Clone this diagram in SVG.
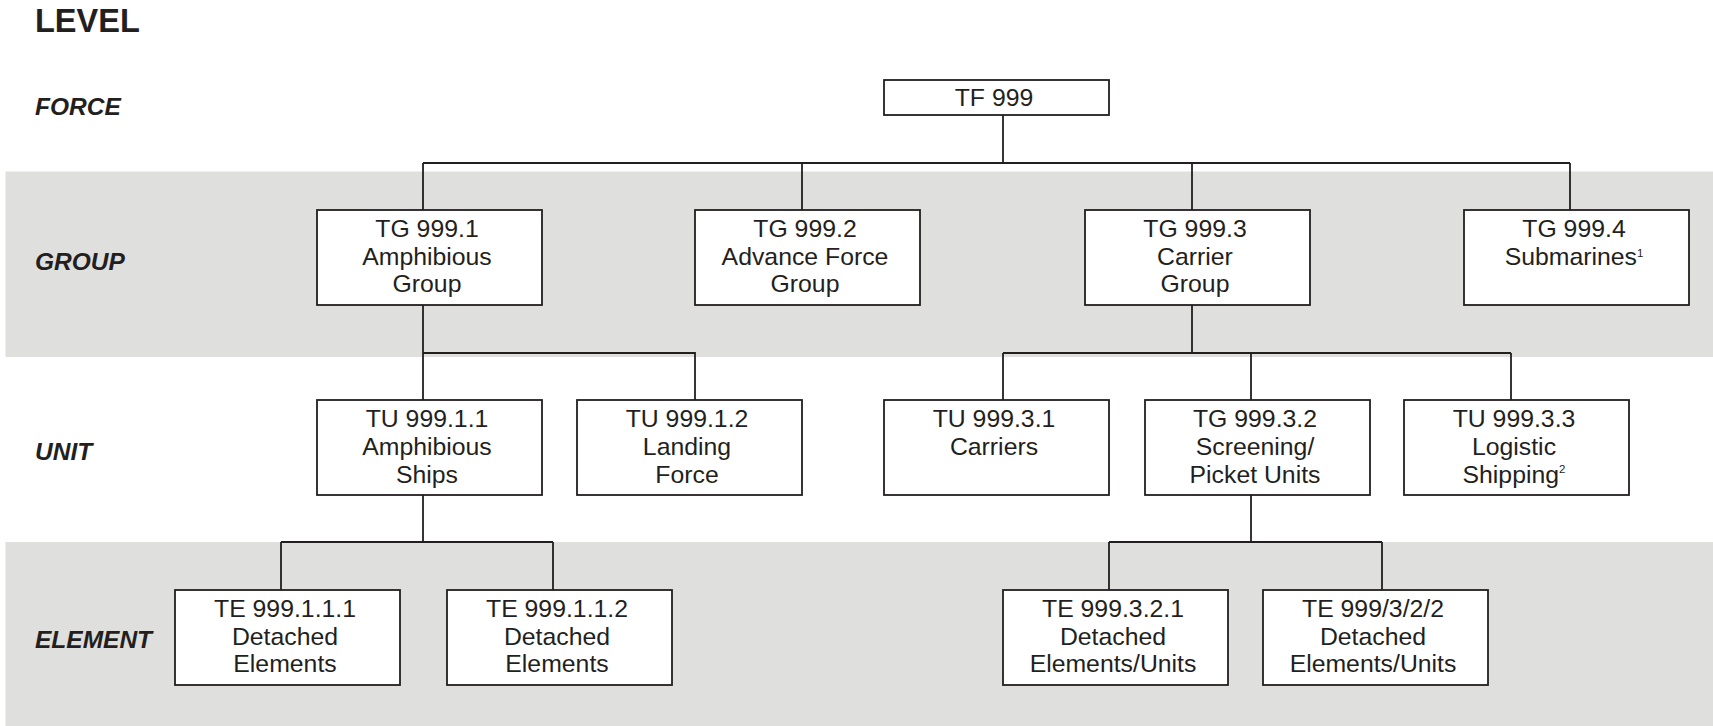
<svg xmlns="http://www.w3.org/2000/svg" width="1713" height="726" viewBox="0 0 1713 726">
<style>
.band{fill:#dfdfde;}
.box{fill:#ffffff;stroke:#231f20;stroke-width:1.8;}
.t{font-family:"Liberation Sans",Arial,sans-serif;font-size:24.8px;fill:#231f20;text-anchor:middle;}
.sup{font-size:11.5px;}
.lvl{font-family:"Liberation Sans",Arial,sans-serif;font-size:24.5px;font-weight:bold;font-style:italic;fill:#231f20;}
.head{font-family:"Liberation Sans",Arial,sans-serif;font-size:32.5px;font-weight:bold;fill:#231f20;}
.conn path{fill:none;stroke:#231f20;stroke-width:1.8;}
</style>
<rect width="1713" height="726" fill="#ffffff"/>
<rect class="band" x="5.5" y="171.5" width="1707.5" height="185.5"/>
<rect class="band" x="5.5" y="542" width="1707.5" height="184"/>
<g id="levels">
<text class="head" x="35" y="32">LEVEL</text>
<text class="lvl" x="35" y="115">FORCE</text>
<text class="lvl" x="35" y="270">GROUP</text>
<text class="lvl" x="35" y="460">UNIT</text>
<text class="lvl" x="35" y="648">ELEMENT</text>
</g>
<g id="connectors" class="conn">
<path d="M1003 115 V163"/>
<path d="M423 163 H1570"/>
<path d="M423 163 V210 M802 163 V210 M1192 163 V210 M1570 163 V210"/>
<path d="M423 305 V400 M423 353 H695 V400"/>
<path d="M1192 305 V353 M1003 353 H1511 M1003 353 V400 M1251 353 V400 M1511 353 V400"/>
<path d="M423 495 V542 M281 542 H553 M281 542 V590 M553 542 V590"/>
<path d="M1251 495 V542 M1109 542 H1382 M1109 542 V590 M1382 542 V590"/>
</g>
<g id="tf999"><rect class="box" x="884" y="80" width="225" height="35"/><text class="t" x="994" y="106">TF 999</text></g>
<g id="tg9991"><rect class="box" x="317" y="210" width="225" height="95"/><text class="t" x="427" y="237">TG 999.1</text><text class="t" x="427" y="265">Amphibious</text><text class="t" x="427" y="292">Group</text></g>
<g id="tg9992"><rect class="box" x="695" y="210" width="225" height="95"/><text class="t" x="805" y="237">TG 999.2</text><text class="t" x="805" y="265">Advance Force</text><text class="t" x="805" y="292">Group</text></g>
<g id="tg9993"><rect class="box" x="1085" y="210" width="225" height="95"/><text class="t" x="1195" y="237">TG 999.3</text><text class="t" x="1195" y="265">Carrier</text><text class="t" x="1195" y="292">Group</text></g>
<g id="tg9994"><rect class="box" x="1464" y="210" width="225" height="95"/><text class="t" x="1574" y="237">TG 999.4</text><text class="t" x="1574" y="265">Submarines<tspan class="sup" dy="-8">1</tspan></text></g>
<g id="tu99911"><rect class="box" x="317" y="400" width="225" height="95"/><text class="t" x="427" y="427">TU 999.1.1</text><text class="t" x="427" y="455">Amphibious</text><text class="t" x="427" y="483">Ships</text></g>
<g id="tu99912"><rect class="box" x="577" y="400" width="225" height="95"/><text class="t" x="687" y="427">TU 999.1.2</text><text class="t" x="687" y="455">Landing</text><text class="t" x="687" y="483">Force</text></g>
<g id="tu99931"><rect class="box" x="884" y="400" width="225" height="95"/><text class="t" x="994" y="427">TU 999.3.1</text><text class="t" x="994" y="455">Carriers</text></g>
<g id="tg99932"><rect class="box" x="1145" y="400" width="225" height="95"/><text class="t" x="1255" y="427">TG 999.3.2</text><text class="t" x="1255" y="455">Screening/</text><text class="t" x="1255" y="483">Picket Units</text></g>
<g id="tu99933"><rect class="box" x="1404" y="400" width="225" height="95"/><text class="t" x="1514" y="427">TU 999.3.3</text><text class="t" x="1514" y="455">Logistic</text><text class="t" x="1514" y="483">Shipping<tspan class="sup" dy="-10">2</tspan></text></g>
<g id="te999111"><rect class="box" x="175" y="590" width="225" height="95"/><text class="t" x="285" y="617">TE 999.1.1.1</text><text class="t" x="285" y="645">Detached</text><text class="t" x="285" y="672">Elements</text></g>
<g id="te999112"><rect class="box" x="447" y="590" width="225" height="95"/><text class="t" x="557" y="617">TE 999.1.1.2</text><text class="t" x="557" y="645">Detached</text><text class="t" x="557" y="672">Elements</text></g>
<g id="te999321"><rect class="box" x="1003" y="590" width="225" height="95"/><text class="t" x="1113" y="617">TE 999.3.2.1</text><text class="t" x="1113" y="645">Detached</text><text class="t" x="1113" y="672">Elements/Units</text></g>
<g id="te999322"><rect class="box" x="1263" y="590" width="225" height="95"/><text class="t" x="1373" y="617">TE 999/3/2/2</text><text class="t" x="1373" y="645">Detached</text><text class="t" x="1373" y="672">Elements/Units</text></g>
</svg>
